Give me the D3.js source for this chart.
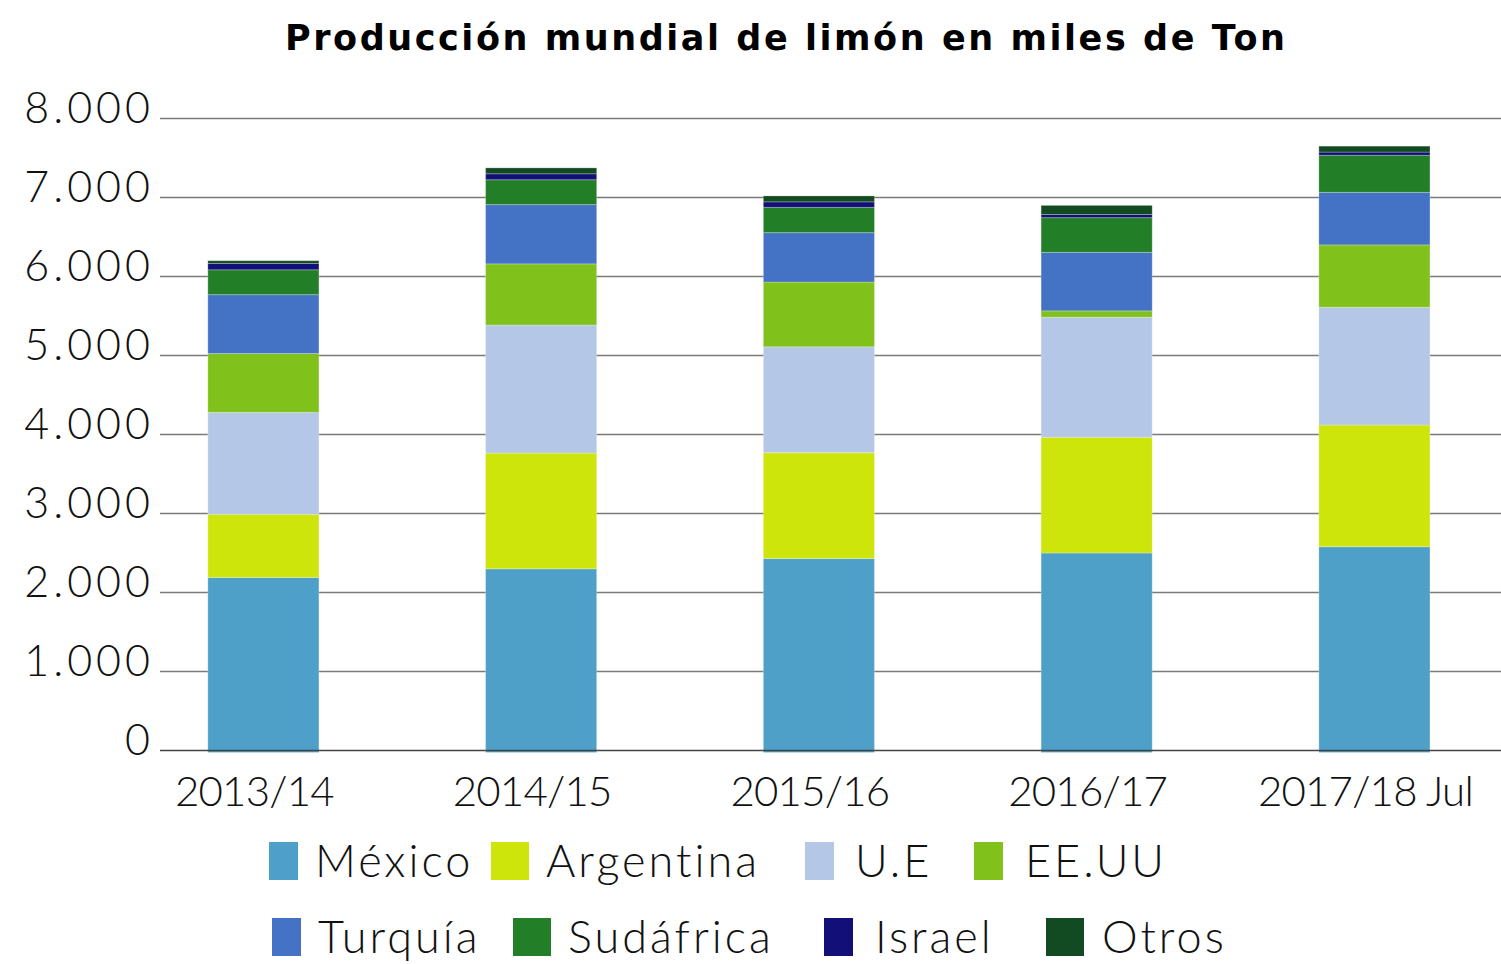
<!DOCTYPE html>
<html>
<head>
<meta charset="utf-8">
<script src="https://cdn.jsdelivr.net/npm/d3@7"></script>
<style>
  html, body { margin: 0; padding: 0; background: #fff; }
  svg { display: block; }
</style>
</head>
<body>
<svg id="chart" width="1501" height="964"></svg>
<script>
const campanias = ["2013/14", "2014/15", "2015/16", "2016/17", "2017/18 Jul"];
const paises = ["México", "Argentina", "U.E", "EE.UU", "Turquía", "Sudáfrica", "Israel", "Otros"];

// miles de toneladas
const mexico    = [2190, 2300, 2430, 2500, 2580];
const argentina = [800, 1465, 1340, 1465, 1540];
const ue        = [1290, 1620, 1340, 1520, 1490];
const eeuu      = [745, 775, 820, 80, 790];
const turquia   = [745, 750, 625, 740, 665];
const sudafrica = [315, 315, 320, 440, 470];
const israel    = [80, 75, 70, 40, 40];
const otros     = [35, 75, 75, 115, 75];

const yTicks = [0, 1000, 2000, 3000, 4000, 5000, 6000, 7000, 8000];
const colores = ["#4fa0c9", "#cde50b", "#b4c7e7", "#80c11c", "#4472c4", "#237e28", "#120f78", "#124a21"];

const series = [mexico, argentina, ue, eeuu, turquia, sudafrica, israel, otros];
const rows = campanias.map((c, i) => {
  const r = { campania: c };
  paises.forEach((p, j) => { r[p] = series[j][i]; });
  return r;
});

const svg = d3.select("#chart");
const font = "Lato, 'Open Sans', sans-serif";

const x = d3.scaleBand()
  .domain(campanias)
  .range([124.5, 1513.3])
  .paddingInner(0.6)
  .paddingOuter(0.3);

const y = d3.scaleLinear()
  .domain([0, 8000])
  .range([750.5, 118.5]);

const fmt = d3.formatLocale({ decimal: ",", thousands: ".", grouping: [3], currency: ["", ""] }).format(",");

// gridlines (behind bars)
svg.append("g")
  .selectAll("line")
  .data(yTicks.filter(d => d > 0))
  .join("line")
  .attr("x1", 160).attr("x2", 1501)
  .attr("y1", d => y(d)).attr("y2", d => y(d))
  .attr("stroke", "#7a7a7a")
  .attr("stroke-width", 1.5);

// y labels
svg.append("g")
  .selectAll("text")
  .data(yTicks)
  .join("text")
  .attr("x", 154)
  .attr("y", d => y(d) + 4)
  .attr("text-anchor", "end")
  .attr("font-family", font)
  .attr("font-weight", 300)
  .attr("font-size", 43)
  .attr("letter-spacing", 4)
  .attr("fill", "#111")
  .text(d => fmt(d));

// stacked bars
const stack = d3.stack().keys(paises)(rows);
const color = d3.scaleOrdinal().domain(paises).range(colores);

svg.append("g")
  .selectAll("g")
  .data(stack)
  .join("g")
  .attr("fill", d => color(d.key))
  .selectAll("rect")
  .data(d => d)
  .join("rect")
  .attr("x", d => x(d.data.campania))
  .attr("width", x.bandwidth())
  .attr("y", d => y(d[1]))
  .attr("height", d => y(d[0]) - y(d[1]) + (d[0] === 0 ? 2 : 0))
  .attr("stroke", "rgba(255,255,255,0.25)")
  .attr("stroke-width", 1);

// baseline on top
svg.append("line")
  .attr("x1", 160).attr("x2", 1501)
  .attr("y1", y(0)).attr("y2", y(0))
  .attr("stroke", "#444")
  .attr("stroke-width", 1.5);

// x labels
svg.append("g")
  .selectAll("text")
  .data(campanias)
  .join("text")
  .attr("x", d => x(d) + x.bandwidth() / 2 - 9)
  .attr("y", 806)
  .attr("text-anchor", "middle")
  .attr("font-family", font)
  .attr("font-weight", 300)
  .attr("font-size", 42)
  .attr("letter-spacing", -0.8)
  .attr("fill", "#111")
  .text(d => d);

// title
svg.append("text")
  .attr("x", 785)
  .attr("y", 50)
  .attr("text-anchor", "middle")
  .attr("font-family", "'DejaVu Sans', sans-serif")
  .attr("font-weight", 700)
  .attr("font-size", 35)
  .attr("textLength", 1000)
  .attr("lengthAdjust", "spacing")
  .attr("fill", "#000")
  .text("Producción mundial de limón en miles de Ton");

// legend
const legendPos = [
  { sx: 269, tx: 315, y: 842, w: 29 },
  { sx: 491, tx: 546, y: 842, w: 38 },
  { sx: 805, tx: 855, y: 842, w: 29 },
  { sx: 974, tx: 1025, y: 842, w: 29 },
  { sx: 272, tx: 318, y: 918, w: 29 },
  { sx: 513, tx: 568, y: 918, w: 38 },
  { sx: 824, tx: 875, y: 918, w: 29 },
  { sx: 1046, tx: 1102, y: 918, w: 38 }
];

const legend = svg.append("g")
  .selectAll("g")
  .data(paises)
  .join("g");

legend.append("rect")
  .attr("x", (d, i) => legendPos[i].sx)
  .attr("y", (d, i) => legendPos[i].y)
  .attr("width", (d, i) => legendPos[i].w)
  .attr("height", 38)
  .attr("fill", d => color(d));

legend.append("text")
  .attr("x", (d, i) => legendPos[i].tx)
  .attr("y", (d, i) => legendPos[i].y + 35)
  .attr("font-family", font)
  .attr("font-weight", 300)
  .attr("font-size", 45)
  .attr("letter-spacing", 3)
  .attr("fill", "#111")
  .text(d => d);
</script>
</body>
</html>
